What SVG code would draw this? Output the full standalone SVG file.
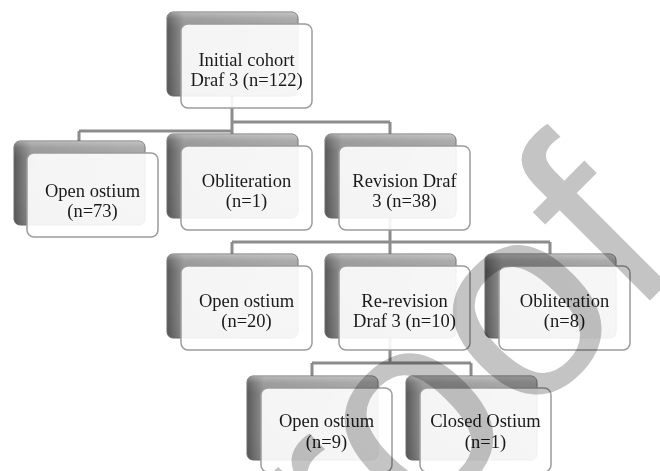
<svg xmlns="http://www.w3.org/2000/svg" width="660" height="471" viewBox="0 0 660 471">
<defs>
<linearGradient id="bgH" x1="0" y1="0" x2="1" y2="0">
<stop offset="0" stop-color="#585858"/>
<stop offset="0.06" stop-color="#747474"/>
<stop offset="0.13" stop-color="#939393"/>
<stop offset="1" stop-color="#a4a4a4"/>
</linearGradient>
<linearGradient id="bgV" x1="0" y1="0" x2="0" y2="1">
<stop offset="0" stop-color="#ffffff" stop-opacity="0.35"/>
<stop offset="0.08" stop-color="#ffffff" stop-opacity="0.1"/>
<stop offset="0.2" stop-color="#ffffff" stop-opacity="0"/>
<stop offset="1" stop-color="#000000" stop-opacity="0.05"/>
</linearGradient>
</defs>
<style>
.back{fill:url(#bgH);stroke:#6c6c6c;stroke-width:1}
.backhl{fill:url(#bgV);stroke:none}
.front{fill:#ffffff;fill-opacity:0.9;stroke:#9c9c9c;stroke-width:1.5}
.lbl{font-family:"Liberation Serif","Times New Roman",serif;font-size:18.5px;fill:#1a1a1a;text-anchor:middle}
.conn{fill:none;stroke:#8c8c8c;stroke-width:3}
.wm{font-family:"Liberation Sans",Arial,sans-serif;font-size:275px;fill:#c4c4c4;mix-blend-mode:multiply}
</style>

<g id="connectors">
<path class="conn" d="M232,96 V131 M79,131 H232 M79,131 V141 M232,122 H390 M232,122 V134 M390,122 V134"/>
<path class="conn" d="M390,216 V242 M232,242 H550 M232,242 V254 M390,242 V254 M550,242 V254"/>
<path class="conn" d="M390,336 V363 M312,363 H471 M312,363 V376 M471,363 V376"/>
</g>

<g id="root">
<rect class="back" x="167" y="12" width="131" height="84" rx="6"/>
<rect class="backhl" x="167" y="12" width="131" height="84" rx="6"/>
<rect class="front" x="181" y="24" width="131" height="84" rx="7"/>
<text class="lbl" x="246.5" y="66">Initial cohort</text>
<text class="lbl" x="246.5" y="86">Draf 3 (n=122)</text>
</g>

<g id="open73">
<rect class="back" x="14" y="141" width="131" height="84" rx="6"/>
<rect class="backhl" x="14" y="141" width="131" height="84" rx="6"/>
<rect class="front" x="27" y="153" width="131" height="84" rx="7"/>
<text class="lbl" x="92.5" y="197">Open ostium</text>
<text class="lbl" x="92.5" y="217">(n=73)</text>
</g>

<g id="oblit1">
<rect class="back" x="167" y="134" width="131" height="84" rx="6"/>
<rect class="backhl" x="167" y="134" width="131" height="84" rx="6"/>
<rect class="front" x="181" y="146" width="131" height="84" rx="7"/>
<text class="lbl" x="246.5" y="187">Obliteration</text>
<text class="lbl" x="246.5" y="207">(n=1)</text>
</g>

<g id="revision">
<rect class="back" x="325" y="134" width="131" height="84" rx="6"/>
<rect class="backhl" x="325" y="134" width="131" height="84" rx="6"/>
<rect class="front" x="339" y="146" width="131" height="84" rx="7"/>
<text class="lbl" x="404.5" y="187">Revision Draf</text>
<text class="lbl" x="404.5" y="207">3 (n=38)</text>
</g>

<g id="open20">
<rect class="back" x="167" y="254" width="131" height="84" rx="6"/>
<rect class="backhl" x="167" y="254" width="131" height="84" rx="6"/>
<rect class="front" x="181" y="266" width="131" height="84" rx="7"/>
<text class="lbl" x="246.5" y="307">Open ostium</text>
<text class="lbl" x="246.5" y="327">(n=20)</text>
</g>

<g id="rerevision">
<rect class="back" x="325" y="254" width="131" height="84" rx="6"/>
<rect class="backhl" x="325" y="254" width="131" height="84" rx="6"/>
<rect class="front" x="339" y="266" width="131" height="84" rx="7"/>
<text class="lbl" x="404.5" y="307">Re-revision</text>
<text class="lbl" x="404.5" y="327">Draf 3 (n=10)</text>
</g>

<g id="oblit8">
<rect class="back" x="485" y="254" width="131" height="84" rx="6"/>
<rect class="backhl" x="485" y="254" width="131" height="84" rx="6"/>
<rect class="front" x="499" y="266" width="131" height="84" rx="7"/>
<text class="lbl" x="564.5" y="307">Obliteration</text>
<text class="lbl" x="564.5" y="327">(n=8)</text>
</g>

<g id="open9">
<rect class="back" x="247" y="376" width="131" height="84" rx="6"/>
<rect class="backhl" x="247" y="376" width="131" height="84" rx="6"/>
<rect class="front" x="261" y="388" width="131" height="84" rx="7"/>
<text class="lbl" x="326.5" y="427">Open ostium</text>
<text class="lbl" x="326.5" y="448">(n=9)</text>
</g>

<g id="closed1">
<rect class="back" x="406" y="376" width="131" height="84" rx="6"/>
<rect class="backhl" x="406" y="376" width="131" height="84" rx="6"/>
<rect class="front" x="420" y="388" width="131" height="84" rx="7"/>
<text class="lbl" x="485.5" y="427">Closed Ostium</text>
<text class="lbl" x="485.5" y="448">(n=1)</text>
</g>

<g id="watermark" transform="translate(420,430) rotate(-45)">
<text class="wm" x="-351" y="71">Proof</text>
</g>
</svg>
